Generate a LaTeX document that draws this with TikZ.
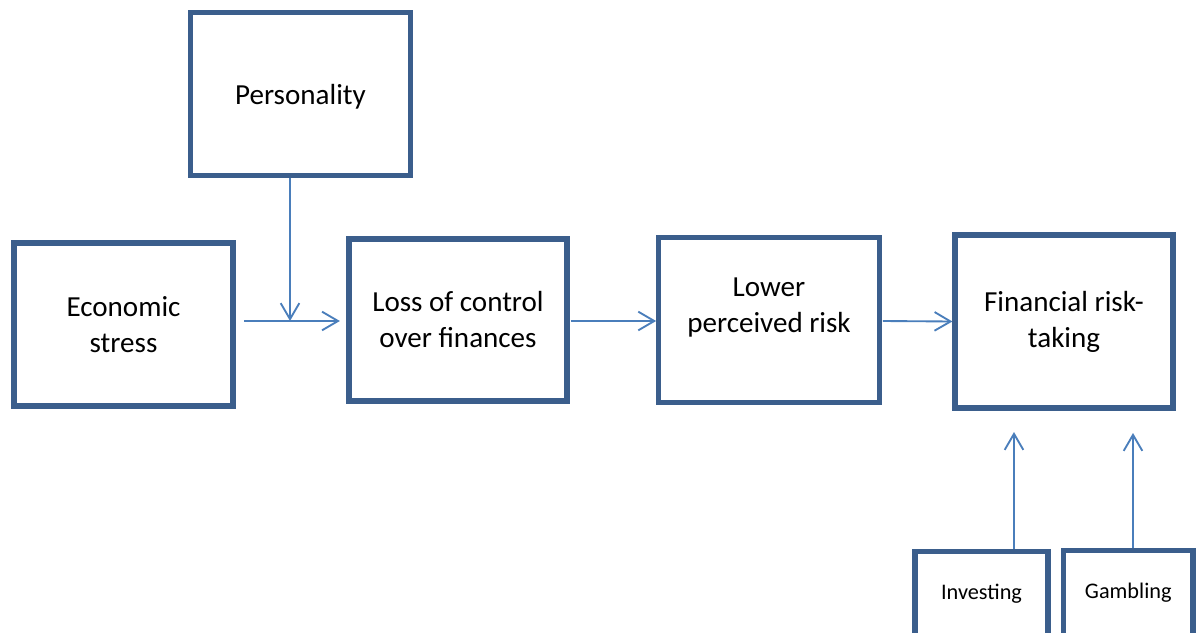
\documentclass[tikz,border=0pt]{standalone}
\usepackage{fontspec}
\setmainfont{Carlito}
\usetikzlibrary{arrows.meta}
\definecolor{boxblue}{HTML}{3B5E8C}
\definecolor{linkblue}{HTML}{4A7EBB}
\begin{document}
\begin{tikzpicture}[x=0.75pt, y=-0.75pt,
    box/.style={draw=boxblue, line width=3.9pt, fill=white, align=center,
      font=\fontsize{21.8}{27}\selectfont},
    smallbox/.style={box, font=\fontsize{16.7}{20}\selectfont},
    link/.style={draw=linkblue, line width=1.4pt,
      -{Straight Barb[length=12pt, width=14pt]}}]
      \useasboundingbox (0,0) rectangle (1196,632);
      \clip (0,0) rectangle (1196,632);
      \draw
        (300.5,94) node[box, minimum width=165pt, minimum height=122.25pt, text depth=0pt] (personality){Personality}
        (123.5,324.5) node[box, minimum width=164.25pt, minimum height=122.25pt] (stress){Economic\\stress}
        (458,320) node[box, minimum width=163.5pt, minimum height=121.5pt] (loss){Loss of control\\over finances}
        (769,320) node[box, minimum width=165.4pt, minimum height=123.4pt] (risk){}
        (769,308) node[align=center, font=\fontsize{21.8}{27}\selectfont] (risk text){Lower\\perceived risk}
        (1064,321.5) node[box, minimum width=163.5pt, minimum height=129.75pt] (taking){Financial risk-\\taking}
        (981.5,593.5) node[smallbox, minimum width=99.75pt, minimum height=63pt] (investing){Investing}
        (1128.25,593) node[smallbox, minimum width=97.1pt, minimum height=63.75pt] (gambling){Gambling};
      \coordinate (join) at (290,321);
      \coordinate (investing tip) at (1014,432);
      \coordinate (gambling tip) at (1133,433);
      \begin{scope}
        \draw[link] (personality.south -| join) to (join);
        \draw[link, shorten <=6.4pt, shorten >=4.9pt] (stress.east |- join) to (loss.west |- join);
        \draw[link, shorten <=0.8pt] (loss.east |- join) to (risk.west |- join);
        \draw[link, shorten <=0.8pt] (risk.east |- join) to (taking.west);
        \draw[link] ([xshift=24.4pt]investing.north) to (investing tip);
        \draw[link] ([xshift=3.6pt]gambling.north) to (gambling tip);
      \end{scope}
    \end{tikzpicture}
\end{document}
